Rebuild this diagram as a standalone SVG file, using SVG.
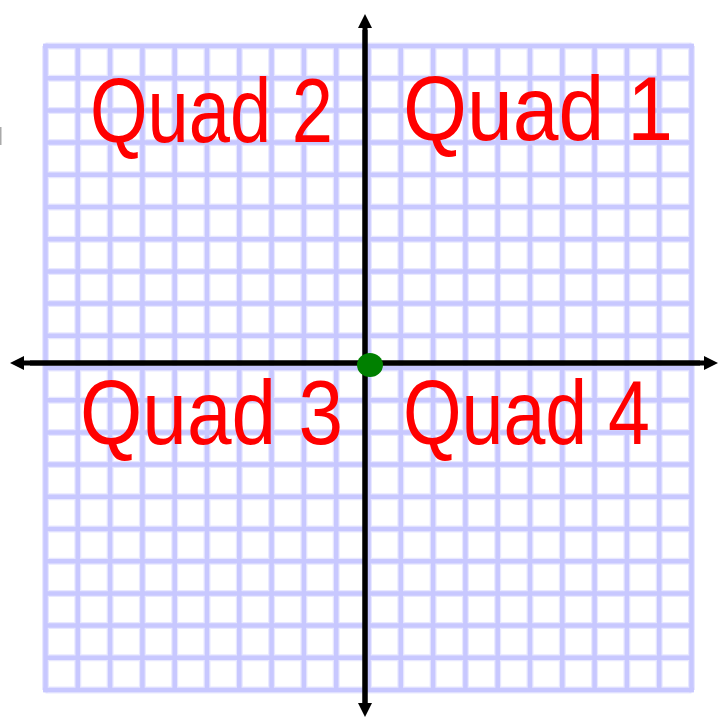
<svg xmlns="http://www.w3.org/2000/svg" width="719" height="720" viewBox="0 0 719 720">
  <defs>
    <style>
      .halo { stroke: #e8e8ff; stroke-width: 7; fill: none; }
      .grid { stroke: #c8c8ff; stroke-width: 4.5; fill: none; }
      .axis { stroke: #000000; stroke-width: 5; fill: none; }
      .lbl { font-family: "Liberation Sans", Arial, sans-serif; font-size: 90px; fill: #ff0000; }
    </style>
    <marker id="arr" viewBox="0 0 14 14" refX="1" refY="7" markerWidth="14" markerHeight="14" markerUnits="userSpaceOnUse" orient="auto">
      <path d="M0,0 L14,7 L0,14 Z" fill="#000000"/>
    </marker>
  </defs>
  <rect x="0" y="0" width="719" height="720" fill="#ffffff"/>
  <rect x="0" y="127" width="1.5" height="18" fill="#aaaaaa"/>
  <g id="grid">
    <g class="halo">
      <path d="M45.5,46V690 M77.8,46V690 M110.1,46V690 M142.4,46V690 M174.7,46V690 M207,46V690 M239.3,46V690 M271.6,46V690 M303.9,46V690 M336.2,46V690 M368.5,46V690 M400.8,46V690 M433.1,46V690 M465.4,46V690 M497.7,46V690 M530,46V690 M562.3,46V690 M594.6,46V690 M626.9,46V690 M659.2,46V690 M691.5,46V690"/>
      <path d="M45.5,46H691.5 M45.5,78.2H691.5 M45.5,110.4H691.5 M45.5,142.6H691.5 M45.5,174.8H691.5 M45.5,207H691.5 M45.5,239.2H691.5 M45.5,271.4H691.5 M45.5,303.6H691.5 M45.5,335.8H691.5 M45.5,368H691.5 M45.5,400.2H691.5 M45.5,432.4H691.5 M45.5,464.6H691.5 M45.5,496.8H691.5 M45.5,529H691.5 M45.5,561.2H691.5 M45.5,593.4H691.5 M45.5,625.6H691.5 M45.5,657.8H691.5 M45.5,690H691.5"/>
    </g>
    <g class="grid">
      <path d="M45.5,43.7V692.3 M77.8,46V690 M110.1,46V690 M142.4,46V690 M174.7,46V690 M207,46V690 M239.3,46V690 M271.6,46V690 M303.9,46V690 M336.2,46V690 M368.5,46V690 M400.8,46V690 M433.1,46V690 M465.4,46V690 M497.7,46V690 M530,46V690 M562.3,46V690 M594.6,46V690 M626.9,46V690 M659.2,46V690 M691.5,43.7V692.3"/>
      <path d="M43.2,46H693.8 M45.5,78.2H691.5 M45.5,110.4H691.5 M45.5,142.6H691.5 M45.5,174.8H691.5 M45.5,207H691.5 M45.5,239.2H691.5 M45.5,271.4H691.5 M45.5,303.6H691.5 M45.5,335.8H691.5 M45.5,368H691.5 M45.5,400.2H691.5 M45.5,432.4H691.5 M45.5,464.6H691.5 M45.5,496.8H691.5 M45.5,529H691.5 M45.5,561.2H691.5 M45.5,593.4H691.5 M45.5,625.6H691.5 M45.5,657.8H691.5 M43.2,690H693.8"/>
    </g>
  </g>
  <g id="axes">
    <line class="axis" x1="365" y1="706" x2="365" y2="27" marker-end="url(#arr)"/>
    <line class="axis" x1="365" y1="30" x2="365" y2="704" marker-end="url(#arr)"/>
    <line class="axis" x1="30" y1="363" x2="705" y2="363" marker-end="url(#arr)"/>
    <line class="axis" x1="700" y1="363" x2="23" y2="363" marker-end="url(#arr)"/>
  </g>
  <g id="origin">
    <ellipse cx="370" cy="365" rx="13" ry="12" fill="#008000"/>
  </g>
  <g id="labels">
    <text class="lbl" x="90" y="142" textLength="243" lengthAdjust="spacingAndGlyphs">Quad 2</text>
    <text class="lbl" x="403" y="140" textLength="270" lengthAdjust="spacingAndGlyphs">Quad 1</text>
    <text class="lbl" x="80" y="444" textLength="263" lengthAdjust="spacingAndGlyphs">Quad 3</text>
    <text class="lbl" x="403" y="444" textLength="247" lengthAdjust="spacingAndGlyphs">Quad 4</text>
  </g>
</svg>
